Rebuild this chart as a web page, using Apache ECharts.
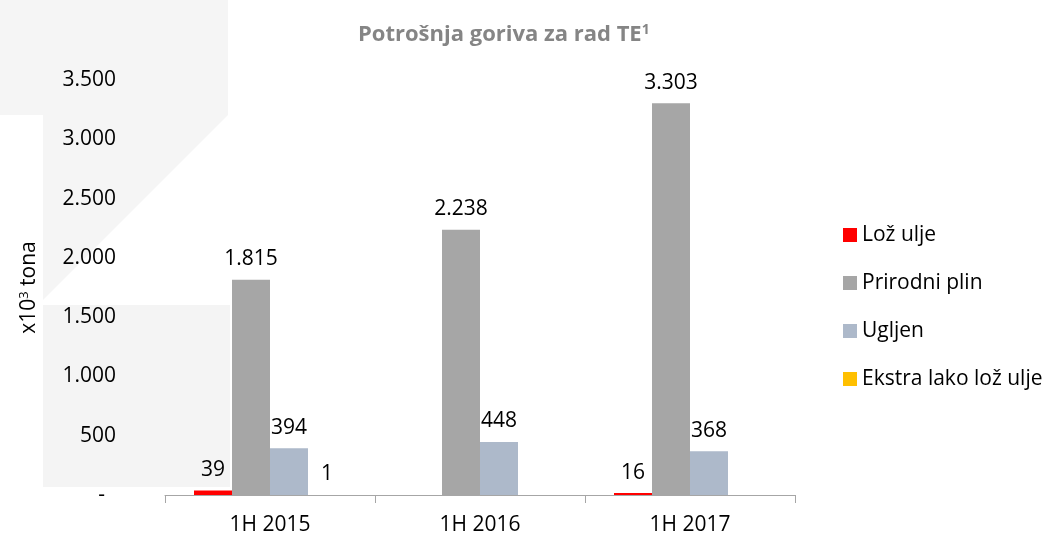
<!DOCTYPE html>
<html>
<head>
<meta charset="utf-8">
<script src="https://cdn.jsdelivr.net/npm/echarts@6/dist/echarts.min.js"></script>
<style>
    html, body { margin: 0; padding: 0; background: #fff; }
    #chart { width: 1063px; height: 540px; }
</style>
</head>
<body>
<div id="chart"></div>
<script>
    // kategorije (polugodista)
    const categories = ['1H 2015', '1H 2016', '1H 2017'];
    // potrosnja po gorivu, x10^3 tona (null = nema podatka)
    const lozUlje = [39, null, 16];
    const prirodniPlin = [1815, 2238, 3303];
    const ugljen = [394, 448, 368];
    const ekstraLako = [1, null, null];
    const seriesNames = ['Lož ulje', 'Prirodni plin', 'Ugljen', 'Ekstra lako lož ulje'];

    const FONT = '"Open Sans", "Noto Sans", sans-serif';

    // 1815 -> "1.815"
    function fmt(v) {
        return String(v).replace(/\B(?=(\d{3})+(?!\d))/g, '.');
    }

    function makeSeries(name, data, color) {
        return {
            name: name,
            type: 'bar',
            data: data,
            barWidth: 38,
            barGap: '0%',
            itemStyle: { color: color },
            label: {
                show: true,
                position: 'top',
                distance: 10,
                color: '#000',
                fontFamily: FONT,
                fontSize: 21,
                formatter: function (p) { return fmt(p.value); }
            }
        };
    }

    let myChart = echarts.init(document.getElementById('chart'));
    let option = {
        backgroundColor: '#fff',
        animation: false,
        // blijeda pozadinska dekoracija
        graphic: [
            { type: 'rect', z: -10, shape: { x: 0, y: 0, width: 228, height: 115 }, style: { fill: '#f5f5f5' } },
            { type: 'polygon', z: -10, shape: { points: [[43, 115], [228, 115], [43, 300]] }, style: { fill: '#f5f5f5' } },
            { type: 'rect', z: -10, shape: { x: 43, y: 305, width: 187, height: 182 }, style: { fill: '#f4f4f4' } }
        ],
        title: {
            text: '{t|Potrošnja goriva za rad TE}{s|1}',
            left: 353,
            top: 18,
            textStyle: {
                rich: {
                    t: { fontFamily: FONT, fontSize: 22, fontWeight: 'bold', color: '#858585' },
                    s: { fontFamily: FONT, fontSize: 14, fontWeight: 'bold', color: '#858585', verticalAlign: 'top', padding: [0, 0, 10, 0] }
                }
            }
        },
        legend: {
            orient: 'vertical',
            left: 838,
            top: 219,
            itemWidth: 14,
            itemHeight: 14,
            itemGap: 26,
            icon: 'rect',
            data: seriesNames,
            textStyle: { fontFamily: FONT, fontSize: 21, color: '#000', lineHeight: 22 }
        },
        grid: {
            left: 165,
            right: 268,
            top: 80,
            bottom: 45
        },
        xAxis: {
            type: 'category',
            data: categories,
            axisLine: { lineStyle: { color: '#a6a6a6' } },
            axisTick: { show: true, length: 8, lineStyle: { color: '#a6a6a6' } },
            axisLabel: { color: '#000', fontFamily: FONT, fontSize: 21, margin: 20 }
        },
        yAxis: {
            type: 'value',
            min: 0,
            max: 3500,
            interval: 500,
            name: '{a|x10}{s|3}{a| tona}',
            nameLocation: 'middle',
            nameRotate: 90,
            nameGap: 124,
            nameTextStyle: {
                rich: {
                    a: { fontFamily: FONT, fontSize: 21, color: '#000' },
                    s: { fontFamily: FONT, fontSize: 13, color: '#000', verticalAlign: 'top', padding: [0, 0, 10, 0] }
                }
            },
            axisLine: { show: false },
            axisTick: { show: false },
            splitLine: { show: false },
            axisLabel: {
                color: '#000',
                fontFamily: FONT,
                fontSize: 21,
                margin: 49,
                formatter: function (v) { return v === 0 ? '-  ' : fmt(v); }
            }
        },
        series: [
            makeSeries(seriesNames[0], lozUlje, '#ff0000'),
            makeSeries(seriesNames[1], prirodniPlin, '#a6a6a6'),
            makeSeries(seriesNames[2], ugljen, '#adb9ca'),
            makeSeries(seriesNames[3], ekstraLako, '#ffc000')
        ]
    };
    myChart.setOption(option, true);
</script>
</body>
</html>
